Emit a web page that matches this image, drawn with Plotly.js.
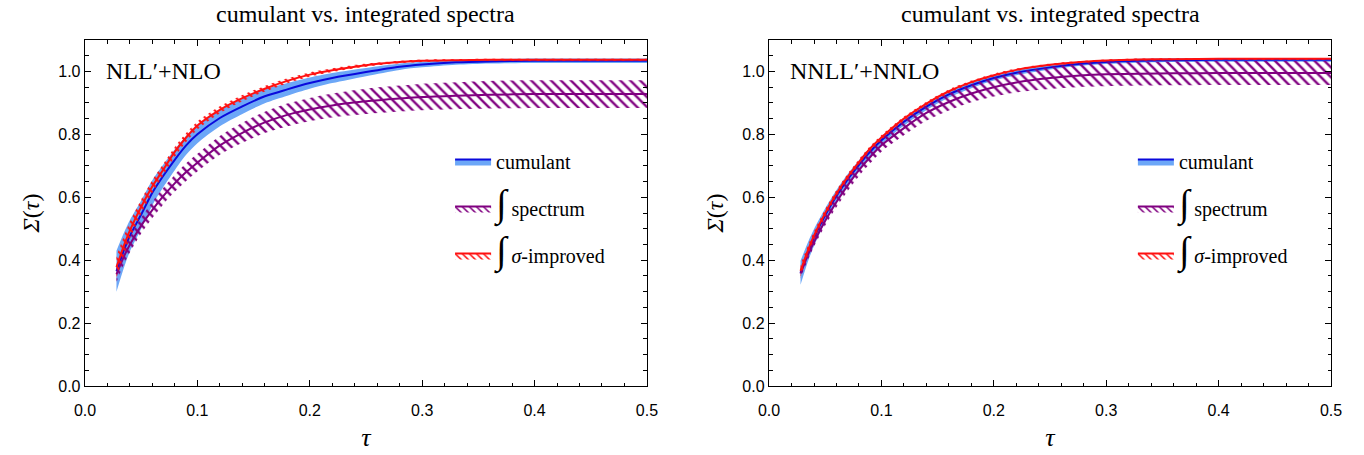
<!DOCTYPE html>
<html>
<head>
<meta charset="utf-8">
<script src="https://cdn.plot.ly/plotly-3.0.1.min.js"></script>
<style>html,body{margin:0;padding:0;background:#fff;}</style>
</head>
<body>
<div id="chart" style="width:1364px;height:455px;"></div>
<script>
// ---------- data ----------
const tau = [0.028, 0.035, 0.04, 0.05, 0.06, 0.07, 0.08, 0.09, 0.1, 0.12, 0.14, 0.16, 0.18, 0.2, 0.22, 0.25, 0.28, 0.3, 0.33, 0.36, 0.4, 0.45, 0.5];

// Left panel: NLL'+NLO
const nloCumMid  = [0.365, 0.435, 0.478, 0.545, 0.615, 0.670, 0.720, 0.765, 0.800, 0.852, 0.889, 0.921, 0.943, 0.963, 0.979, 0.998, 1.015, 1.022, 1.029, 1.032, 1.034, 1.034, 1.034];
const nloCumLo   = [0.300, 0.380, 0.428, 0.500, 0.575, 0.634, 0.687, 0.735, 0.772, 0.826, 0.865, 0.899, 0.923, 0.945, 0.963, 0.985, 1.005, 1.013, 1.021, 1.025, 1.027, 1.027, 1.027];
const nloCumHi   = [0.430, 0.490, 0.528, 0.590, 0.655, 0.706, 0.753, 0.795, 0.828, 0.878, 0.913, 0.943, 0.963, 0.981, 0.995, 1.011, 1.025, 1.031, 1.037, 1.039, 1.041, 1.041, 1.041];
const nloSpecMid = [0.355, 0.415, 0.450, 0.510, 0.560, 0.605, 0.645, 0.680, 0.710, 0.765, 0.805, 0.838, 0.862, 0.879, 0.892, 0.905, 0.914, 0.919, 0.923, 0.926, 0.928, 0.928, 0.928];
const nloSpecLo  = [0.330, 0.390, 0.425, 0.485, 0.534, 0.579, 0.618, 0.652, 0.682, 0.735, 0.773, 0.804, 0.826, 0.842, 0.854, 0.865, 0.873, 0.877, 0.880, 0.882, 0.884, 0.884, 0.884];
const nloSpecHi  = [0.380, 0.440, 0.475, 0.535, 0.586, 0.631, 0.672, 0.708, 0.738, 0.795, 0.837, 0.872, 0.898, 0.916, 0.930, 0.945, 0.955, 0.961, 0.966, 0.970, 0.972, 0.972, 0.972];
const nloImpMid  = [0.378, 0.450, 0.495, 0.570, 0.635, 0.690, 0.745, 0.790, 0.828, 0.878, 0.915, 0.945, 0.970, 0.990, 1.004, 1.020, 1.030, 1.034, 1.036, 1.037, 1.037, 1.037, 1.037];
const nloImpLo   = [0.343, 0.420, 0.468, 0.547, 0.615, 0.672, 0.729, 0.776, 0.815, 0.867, 0.905, 0.936, 0.962, 0.983, 0.998, 1.015, 1.026, 1.030, 1.033, 1.034, 1.034, 1.034, 1.034];
const nloImpHi   = [0.413, 0.480, 0.522, 0.593, 0.655, 0.708, 0.761, 0.804, 0.841, 0.889, 0.925, 0.954, 0.978, 0.997, 1.010, 1.025, 1.034, 1.038, 1.039, 1.040, 1.040, 1.040, 1.040];

// Right panel: NNLL'+NNLO
const nnloCumMid  = [0.360, 0.430, 0.472, 0.543, 0.604, 0.657, 0.703, 0.745, 0.781, 0.840, 0.888, 0.927, 0.956, 0.979, 0.996, 1.013, 1.025, 1.030, 1.034, 1.036, 1.037, 1.037, 1.037];
const nnloCumLo   = [0.322, 0.400, 0.445, 0.521, 0.585, 0.640, 0.688, 0.731, 0.768, 0.828, 0.877, 0.917, 0.947, 0.971, 0.988, 1.006, 1.019, 1.024, 1.028, 1.030, 1.031, 1.031, 1.031];
const nnloCumHi   = [0.398, 0.460, 0.499, 0.565, 0.623, 0.674, 0.718, 0.759, 0.794, 0.852, 0.899, 0.937, 0.965, 0.987, 1.004, 1.020, 1.031, 1.036, 1.040, 1.042, 1.043, 1.043, 1.043];
const nnloSpecMid = [0.357, 0.420, 0.458, 0.525, 0.585, 0.638, 0.686, 0.728, 0.765, 0.820, 0.868, 0.903, 0.930, 0.950, 0.965, 0.979, 0.988, 0.991, 0.993, 0.994, 0.995, 0.995, 0.995];
const nnloSpecLo  = [0.342, 0.405, 0.443, 0.510, 0.568, 0.620, 0.667, 0.708, 0.745, 0.797, 0.843, 0.876, 0.902, 0.920, 0.933, 0.944, 0.951, 0.953, 0.955, 0.956, 0.957, 0.957, 0.957];
const nnloSpecHi  = [0.372, 0.435, 0.473, 0.540, 0.602, 0.656, 0.705, 0.748, 0.785, 0.843, 0.893, 0.930, 0.958, 0.980, 0.997, 1.014, 1.025, 1.029, 1.031, 1.032, 1.033, 1.033, 1.033];
const nnloImpMid  = [0.366, 0.435, 0.478, 0.550, 0.612, 0.665, 0.712, 0.755, 0.790, 0.850, 0.898, 0.937, 0.966, 0.988, 1.005, 1.021, 1.031, 1.035, 1.038, 1.039, 1.040, 1.040, 1.040];
const nnloImpLo   = [0.346, 0.419, 0.464, 0.538, 0.601, 0.655, 0.703, 0.747, 0.782, 0.843, 0.892, 0.931, 0.961, 0.983, 1.001, 1.017, 1.028, 1.032, 1.035, 1.036, 1.037, 1.037, 1.037];
const nnloImpHi   = [0.386, 0.451, 0.492, 0.562, 0.623, 0.675, 0.721, 0.763, 0.798, 0.857, 0.904, 0.943, 0.971, 0.993, 1.009, 1.025, 1.034, 1.038, 1.041, 1.042, 1.043, 1.043, 1.043];

const panelTitles = ["cumulant vs. integrated spectra", "cumulant vs. integrated spectra"];
const orderLabels = ["NLL\u2032+NLO", "NNLL\u2032+NNLO"];
const legendNames = ["cumulant",
  "<span style='font-size:38px'>\u222B</span> spectrum",
  "<span style='font-size:38px'>\u222B</span> <i>\u03C3</i>-improved"];
const xTickVals = [0, 0.1, 0.2, 0.3, 0.4, 0.5];
const yTickVals = [0, 0.2, 0.4, 0.6, 0.8, 1.0];

// ---------- styling ----------
const BAND = '#6ca7f7', BLUE = '#0a0adc', PURPLE = '#800080', RED = '#ff1010';
const SERIF = 'Liberation Serif';
const SANS = 'Liberation Sans';

function hatch(color, size, sol) {
  return {shape: '\\', fgcolor: color, bgcolor: 'rgba(0,0,0,0)', size: size, solidity: sol, fillmode: 'replace'};
}

function panel(xa, ya, leg, cMid, cLo, cHi, sMid, sLo, sHi, iMid, iLo, iHi) {
  const base = {x: tau, xaxis: xa, yaxis: ya, mode: 'lines', hoverinfo: 'skip', showlegend: false};
  const spl = {shape: 'spline', smoothing: 0.8};
  return [
    // cumulant band
    Object.assign({}, base, {y: cLo, line: Object.assign({width: 0}, spl)}),
    Object.assign({}, base, {y: cHi, fill: 'tonexty', fillcolor: BAND, line: Object.assign({width: 0}, spl)}),
    Object.assign({}, base, {y: cMid, line: Object.assign({width: 2, color: BLUE}, spl)}),
    // spectrum hatch band
    Object.assign({}, base, {y: sLo, line: Object.assign({width: 0}, spl)}),
    Object.assign({}, base, {y: sHi, fill: 'tonexty', fillcolor: 'rgba(0,0,0,0)', fillpattern: hatch(PURPLE, 7, 0.33), line: Object.assign({width: 0}, spl)}),
    Object.assign({}, base, {y: sMid, line: Object.assign({width: 2, color: PURPLE}, spl)}),
    // sigma-improved hatch band
    Object.assign({}, base, {y: iLo, line: Object.assign({width: 0}, spl)}),
    Object.assign({}, base, {y: iHi, fill: 'tonexty', fillcolor: 'rgba(0,0,0,0)', fillpattern: hatch(RED, 6, 0.33), line: Object.assign({width: 0}, spl)}),
    Object.assign({}, base, {y: iMid, line: Object.assign({width: 2, color: RED}, spl)}),
    // legend entries
    {x: [null], y: [null], xaxis: xa, yaxis: ya, mode: 'lines', fill: 'toself', fillcolor: BAND,
     line: {color: BLUE, width: 2}, name: legendNames[0], legend: leg, legendgroup: leg + 'a', showlegend: true},
    {x: [null], y: [null], xaxis: xa, yaxis: ya, mode: 'lines', fill: 'toself', fillcolor: 'rgba(0,0,0,0)',
     fillpattern: hatch(PURPLE, 5, 0.3), line: {color: PURPLE, width: 2}, name: legendNames[1], legend: leg, legendgroup: leg + 'b', showlegend: true},
    {x: [null], y: [null], xaxis: xa, yaxis: ya, mode: 'lines', fill: 'toself', fillcolor: 'rgba(0,0,0,0)',
     fillpattern: hatch(RED, 5, 0.3), line: {color: RED, width: 2}, name: legendNames[2], legend: leg, legendgroup: leg + 'c', showlegend: true}
  ];
}

const data = [].concat(
  panel('x', 'y', 'legend', nloCumMid, nloCumLo, nloCumHi, nloSpecMid, nloSpecLo, nloSpecHi, nloImpMid, nloImpLo, nloImpHi),
  panel('x2', 'y2', 'legend2', nnloCumMid, nnloCumLo, nnloCumHi, nnloSpecMid, nnloSpecLo, nnloSpecHi, nnloImpMid, nnloImpLo, nnloImpHi)
);

function xAxis(domain, anchor) {
  return {domain: domain, anchor: anchor, range: [0, 0.5], tickvals: xTickVals, tickformat: '.1f',
    showgrid: false, zeroline: false, showline: true, linecolor: '#000', linewidth: 1.3, mirror: 'ticks',
    ticks: 'inside', ticklen: 6, tickwidth: 1.1, tickcolor: '#000', ticklabelstandoff: 9,
    minor: {dtick: 0.02, ticks: 'inside', ticklen: 3.5, tickwidth: 1, tickcolor: '#000', showgrid: false},
    tickfont: {family: SANS, size: 16, color: '#000'},
    title: {text: '<i>\u03C4</i>', font: {family: SERIF, size: 26, color: '#000'}, standoff: 10}};
}
function yAxis(anchor) {
  return {domain: [0, 1], anchor: anchor, range: [0, 1.1], tickvals: yTickVals, tickformat: '.1f',
    showgrid: false, zeroline: false, showline: true, linecolor: '#000', linewidth: 1.3, mirror: 'ticks',
    ticks: 'inside', ticklen: 6, tickwidth: 1.1, tickcolor: '#000',
    minor: {dtick: 0.05, ticks: 'inside', ticklen: 3.5, tickwidth: 1, tickcolor: '#000', showgrid: false},
    tickfont: {family: SANS, size: 16, color: '#000'},
    title: {text: '<i>\u03A3</i>(<i>\u03C4</i>)', font: {family: SERIF, size: 24, color: '#000'}, standoff: 12}};
}

const legendBase = {bgcolor: 'rgba(0,0,0,0)', borderwidth: 0, font: {family: SERIF, size: 20, color: '#000'},
  tracegroupgap: 18, itemwidth: 36, xanchor: 'left', yanchor: 'top', traceorder: 'grouped'};

const layout = {
  width: 1364, height: 455,
  font: {family: SERIF, size: 20, color: '#000'},
  margin: {l: 85, r: 33, t: 40, b: 69},
  paper_bgcolor: '#fff', plot_bgcolor: '#fff',
  xaxis: xAxis([0, 0.451], 'y'),
  yaxis: yAxis('x'),
  xaxis2: xAxis([0.549, 1], 'y2'),
  yaxis2: yAxis('x2'),
  legend: Object.assign({}, legendBase, {x: 0.293, y: 0.705}),
  legend2: Object.assign({}, legendBase, {x: 0.841, y: 0.705}),
  annotations: [
    {text: panelTitles[0], xref: 'x domain', yref: 'paper', x: 0.5, y: 1.075, xanchor: 'center', yanchor: 'middle', showarrow: false,
     font: {family: SERIF, size: 24, color: '#000'}},
    {text: panelTitles[1], xref: 'x2 domain', yref: 'paper', x: 0.5, y: 1.075, xanchor: 'center', yanchor: 'middle', showarrow: false,
     font: {family: SERIF, size: 24, color: '#000'}},
    {text: orderLabels[0], xref: 'x domain', yref: 'y domain', x: 0.033, y: 0.91, xanchor: 'left', yanchor: 'middle', showarrow: false,
     font: {family: SERIF, size: 24, color: '#000'}},
    {text: orderLabels[1], xref: 'x2 domain', yref: 'y2 domain', x: 0.033, y: 0.91, xanchor: 'left', yanchor: 'middle', showarrow: false,
     font: {family: SERIF, size: 24, color: '#000'}}
  ]
};

Plotly.newPlot('chart', data, layout, {staticPlot: true, displayModeBar: false});
</script>
</body>
</html>
